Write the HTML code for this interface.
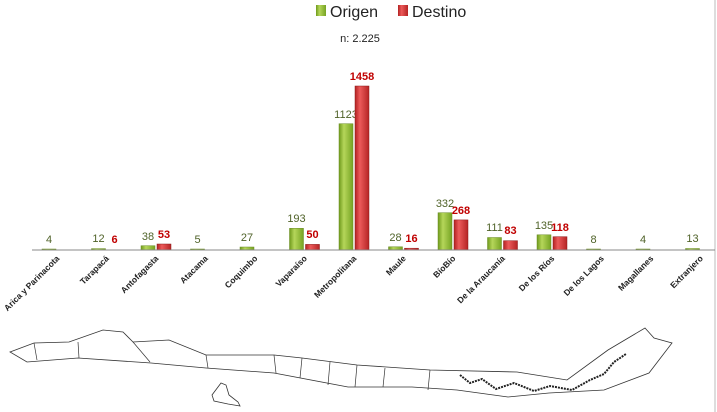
<!DOCTYPE html>
<html><head><meta charset="utf-8"><style>
body{margin:0;background:#fff;}
svg{display:block;font-family:"Liberation Sans",sans-serif;}
.o{font-size:11px;fill:#4f6228;text-anchor:middle}
.d{font-size:11px;font-weight:bold;fill:#c00000;text-anchor:middle}
.c{font-size:8.5px;font-weight:bold;fill:#222;text-anchor:end}
.gb{fill:url(#g);stroke:#6a8c25;stroke-width:0.5}
.rb{fill:url(#r);stroke:#8b1a1a;stroke-width:0.5}
</style></head><body>
<svg width="717" height="412" viewBox="0 0 717 412">
<defs>
<linearGradient id="g" x1="0" x2="1"><stop offset="0" stop-color="#6f9a1c"/><stop offset="0.35" stop-color="#b5d65a"/><stop offset="1" stop-color="#76a323"/></linearGradient>
<linearGradient id="r" x1="0" x2="1"><stop offset="0" stop-color="#b22222"/><stop offset="0.35" stop-color="#ec5a5a"/><stop offset="1" stop-color="#b52424"/></linearGradient>
</defs>
<line x1="715" y1="0" x2="715" y2="412" stroke="#bbb"/>
<rect x="316" y="5" width="10" height="11" fill="url(#g)"/>
<text x="330" y="17" font-size="16" fill="#222">Origen</text>
<rect x="398" y="5" width="10" height="11" fill="url(#r)"/>
<text x="412" y="17" font-size="16" fill="#222">Destino</text>
<text x="360" y="42" font-size="11" fill="#222" text-anchor="middle">n: 2.225</text>

<rect class="gb" x="42" y="249" width="14" height="1"/>
<text class="o" x="49" y="243">4</text>
<rect class="gb" x="91.5" y="248.6" width="14" height="1.4"/>
<text class="o" x="98.5" y="242">12</text>
<text class="d" x="114.5" y="243">6</text>
<rect class="gb" x="141" y="245.7" width="14" height="4.3"/>
<text class="o" x="148" y="240">38</text>
<rect class="rb" x="157" y="244" width="14" height="6"/>
<text class="d" x="164" y="238">53</text>
<rect class="gb" x="190.5" y="249" width="14" height="1"/>
<text class="o" x="197.5" y="243">5</text>
<rect class="gb" x="240" y="247" width="14" height="3"/>
<text class="o" x="247" y="241">27</text>
<rect class="gb" x="289.5" y="228.3" width="14" height="21.7"/>
<text class="o" x="296.5" y="222">193</text>
<rect class="rb" x="305.5" y="244.4" width="14" height="5.6"/>
<text class="d" x="312.5" y="238">50</text>
<rect class="gb" x="339" y="123.7" width="14" height="126.3"/>
<text class="o" x="346" y="118">1123</text>
<rect class="rb" x="355" y="86" width="14" height="164"/>
<text class="d" x="362" y="80">1458</text>
<rect class="gb" x="388.5" y="246.8" width="14" height="3.2"/>
<text class="o" x="395.5" y="241">28</text>
<rect class="rb" x="404.5" y="248.2" width="14" height="1.8"/>
<text class="d" x="411.5" y="242">16</text>
<rect class="gb" x="438" y="212.7" width="14" height="37.3"/>
<text class="o" x="445" y="207">332</text>
<rect class="rb" x="454" y="219.9" width="14" height="30.1"/>
<text class="d" x="461" y="214">268</text>
<rect class="gb" x="487.5" y="237.5" width="14" height="12.5"/>
<text class="o" x="494.5" y="231">111</text>
<rect class="rb" x="503.5" y="240.7" width="14" height="9.3"/>
<text class="d" x="510.5" y="234">83</text>
<rect class="gb" x="537" y="234.8" width="14" height="15.2"/>
<text class="o" x="544" y="229">135</text>
<rect class="rb" x="553" y="236.7" width="14" height="13.3"/>
<text class="d" x="560" y="231">118</text>
<rect class="gb" x="586.5" y="249" width="14" height="1"/>
<text class="o" x="593.5" y="243">8</text>
<rect class="gb" x="636" y="249" width="14" height="1"/>
<text class="o" x="643" y="243">4</text>
<rect class="gb" x="685.5" y="248.5" width="14" height="1.5"/>
<text class="o" x="692.5" y="242">13</text>

<line x1="32" y1="250" x2="715" y2="250" stroke="#888"/>

<text class="c" transform="translate(60,259) rotate(-45)">Arica y Parinacota</text>
<text class="c" transform="translate(109.5,259) rotate(-45)">Tarapacá</text>
<text class="c" transform="translate(159,259) rotate(-45)">Antofagasta</text>
<text class="c" transform="translate(208.5,259) rotate(-45)">Atacama</text>
<text class="c" transform="translate(258,259) rotate(-45)">Coquimbo</text>
<text class="c" transform="translate(307.5,259) rotate(-45)">Vaparaíso</text>
<text class="c" transform="translate(357,259) rotate(-45)">Metropolitana</text>
<text class="c" transform="translate(406.5,259) rotate(-45)">Maule</text>
<text class="c" transform="translate(456,259) rotate(-45)">BíoBío</text>
<text class="c" transform="translate(505.5,259) rotate(-45)">De la Araucanía</text>
<text class="c" transform="translate(555,259) rotate(-45)">De los Ríos</text>
<text class="c" transform="translate(604.5,259) rotate(-45)">De los Lagos</text>
<text class="c" transform="translate(654,259) rotate(-45)">Magallanes</text>
<text class="c" transform="translate(703.5,259) rotate(-45)">Extranjero</text>

<path d="M10,352 L34,343 L69,342 L103,330 L123,332 L133,342 L169,340 L206,355 L274,355 L302,358 L357,365 L430,370 L517,372 L567,380 L608,350 L645,328 L654,338 L672,343 L649,373 L604,390 L549,393 L508,397 L457,390 L412,387 L348,387 L274,373 L206,368 L151,363 L78,358 L27,362 Z" fill="none" stroke="#333" stroke-width="0.8"/>
<path d="M34,343 L37,360 M78,342 L79,358 M133,342 L150,362 M206,355 L208,368 M274,355 L276,373 M302,358 L300,378 M330,362 L328,385 M357,365 L355,387 M385,368 L383,387 M430,370 L428,390" stroke="#333" stroke-width="0.7" fill="none"/>
<path d="M460,375 l10,8 l12,-4 l14,10 l18,-6 l20,8 l16,-5 l22,4 l18,-10 l14,-6 l10,-12 l12,-8" stroke="#222" stroke-width="2" fill="none" stroke-dasharray="2 1"/>
<path d="M221,383 L226,385 L229,395 L238,402 L240,406 L228,404 L214,401 L212,395 Z" fill="none" stroke="#333" stroke-width="0.8"/>
</svg>
</body></html>
